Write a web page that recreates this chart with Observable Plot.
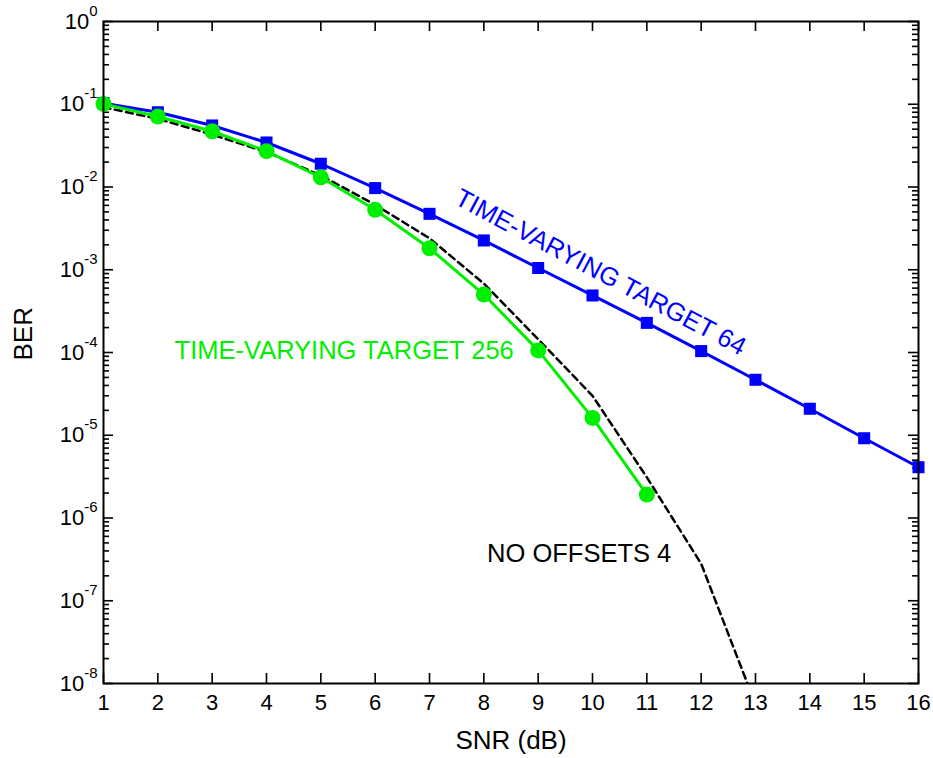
<!DOCTYPE html>
<html><head><meta charset="utf-8">
<script src="https://cdn.jsdelivr.net/npm/d3@7"></script>
<script src="https://cdn.jsdelivr.net/npm/@observablehq/plot@0.6"></script>
<style>
html,body{margin:0;padding:0;background:#fff;}
#chart svg{display:block}
</style>
</head><body><div id="chart"></div>
<script>
// ---- data ----
const snr64 = [1,2,3,4,5,6,7,8,9,10,11,12,13,14,15,16];
const ber64 = [0.103,0.080,0.0554,0.0345,0.0191,0.0097,0.00474,0.00226,0.00105,0.000489,0.000228,0.000104,0.0000468,0.0000209,0.0000092,0.00000411];

const snr256 = [1,2,3,4,5,6,7,8,9,10,11];
const ber256 = [0.101,0.0711,0.0472,0.0271,0.0131,0.0053,0.00182,0.000502,0.000106,0.0000162,0.00000192];

const snrNoOff = [1,2,3,4,5,6,7,8,9,10,11,12,13];
const berNoOff = [0.092,0.0667,0.043,0.0264,0.0138,0.0061,0.0024,0.00068,0.000145,0.00003,0.0000031,0.00000028,0.0000000056];

const xTicks = [1,2,3,4,5,6,7,8,9,10,11,12,13,14,15,16];
const yMajor = [1,1e-1,1e-2,1e-3,1e-4,1e-5,1e-6,1e-7,1e-8];
const yMajorLabels = ["10^0","10^-1","10^-2","10^-3","10^-4","10^-5","10^-6","10^-7","10^-8"];
const yMinorMultipliers = [2,3,4,5,6,7,8,9];

const labelText = ["TIME-VARYING TARGET 64","TIME-VARYING TARGET 256","NO OFFSETS 4"];
const labelX = [10.15, 5.43, 9.755];
const labelY = [9.3e-4, 1.057e-4, 3.74e-7];

const xTitle = "SNR (dB)";
const yTitle = "BER";

// ---- tables built from the arrays ----
const d64 = snr64.map((x,i)=>({x, y: ber64[i]}));
const d256 = snr256.map((x,i)=>({x, y: ber256[i]}));
const dNo = snrNoOff.map((x,i)=>({x, y: berNoOff[i]}));
const yMinor = yMajor.slice(1).flatMap(p => yMinorMultipliers.map(m => m*p));
const lab = i => [{text: labelText[i], x: labelX[i], y: labelY[i]}];
const fmtY = d => yMajorLabels[yMajor.findIndex(v => Math.abs(Math.log10(v) - Math.log10(d)) < 1e-6)];

const W = 933, H = 758, mL = 103, mR = 15, mT = 21, mB = 75;
const innerW = W - mL - mR, innerH = H - mT - mB;
const MAJ = 10, MIN = 6;
const xDom = [1, 16], yDom = [1e-8, 1];
// tick lengths expressed in data units through the scale spans
const xPerPx = (xDom[1] - xDom[0]) / innerW;
const decPerPx = (Math.log10(yDom[1]) - Math.log10(yDom[0])) / innerH;
const upY = (v, px) => v * Math.pow(10, px * decPerPx);

const BLUE = "#0000ff", GREEN = "#00ee00", BLACK = "#000";
const tk = {stroke: "#000", strokeWidth: 1.6};

const chart = Plot.plot({
  width: W, height: H,
  marginLeft: mL, marginRight: mR, marginTop: mT, marginBottom: mB,
  style: {fontFamily: "'Liberation Sans', Arial, Helvetica, sans-serif", fontSize: "22px", background: "#fff", color: "#000"},
  x: {domain: xDom, label: null},
  y: {type: "log", domain: yDom, label: null},
  marks: [
    // tick labels
    Plot.axisX({ticks: xTicks, tickSize: 0, tickPadding: 11, label: null, fontSize: 22}),
    Plot.axisY({ticks: yMajor, tickSize: 0, tickPadding: 6, tickFormat: fmtY, label: null, fontSize: 22}),
    // inward ticks
    Plot.ruleX(xTicks, {x: d => d, y1: yDom[0], y2: upY(yDom[0], MAJ), ...tk}),
    Plot.ruleX(xTicks, {x: d => d, y1: yDom[1], y2: upY(yDom[1], -MAJ), ...tk}),
    Plot.ruleY(yMajor, {y: d => d, x1: xDom[0], x2: xDom[0] + MAJ * xPerPx, ...tk}),
    Plot.ruleY(yMinor, {y: d => d, x1: xDom[0], x2: xDom[0] + MIN * xPerPx, ...tk}),
    Plot.ruleY(yMajor, {y: d => d, x1: xDom[1], x2: xDom[1] - MAJ * xPerPx, ...tk}),
    Plot.ruleY(yMinor, {y: d => d, x1: xDom[1], x2: xDom[1] - MIN * xPerPx, ...tk}),
    // series
    Plot.line(d64, {x: "x", y: "y", stroke: BLUE, strokeWidth: 3}),
    Plot.dot(d64, {x: "x", y: "y", symbol: "square", r: 6.8, fill: BLUE, stroke: "none"}),
    Plot.line(dNo, {x: "x", y: "y", stroke: BLACK, strokeWidth: 2.5, strokeDasharray: "7,4.5", clip: true}),
    Plot.line(d256, {x: "x", y: "y", stroke: GREEN, strokeWidth: 3}),
    Plot.dot(d256, {x: "x", y: "y", r: 8, fill: GREEN, stroke: "none"}),
    // annotations
    Plot.text(lab(0), {x: "x", y: "y", text: "text", fill: BLUE, fontSize: 25.5, rotate: 28, textAnchor: "middle", lineAnchor: "middle"}),
    Plot.text(lab(1), {x: "x", y: "y", text: "text", fill: GREEN, fontSize: 25.5, textAnchor: "middle", lineAnchor: "middle"}),
    Plot.text(lab(2), {x: "x", y: "y", text: "text", fill: BLACK, fontSize: 25.5, textAnchor: "middle", lineAnchor: "middle"}),
    // axis titles
    Plot.text([xTitle], {frameAnchor: "bottom", text: d => d, dy: 57, fontSize: 26, lineAnchor: "middle"}),
    Plot.text([yTitle], {frameAnchor: "left", text: d => d, dx: -80, dy: 8, rotate: -90, fontSize: 26, lineAnchor: "middle"}),
    Plot.frame({stroke: "#000", strokeWidth: 2})
  ]
});

// superscript exponents for the y tick labels
chart.querySelectorAll("text").forEach(t => {
  if (t.children.length) return;
  const s = t.textContent;
  if (!s.startsWith("10^")) return;
  const [b, e] = s.split("^");
  t.textContent = b;
  const ts = document.createElementNS("http://www.w3.org/2000/svg", "tspan");
  ts.setAttribute("dy", "-13");
  ts.setAttribute("font-size", "15");
  ts.textContent = e;
  t.appendChild(ts);
});

document.getElementById("chart").appendChild(chart);
</script>
</body></html>
